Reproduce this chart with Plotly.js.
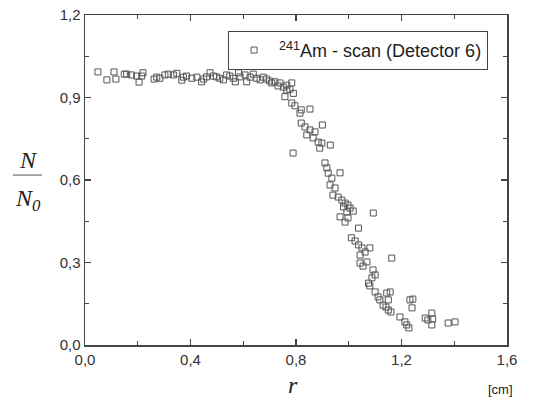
<!DOCTYPE html>
<html>
<head>
<meta charset="utf-8">
<script src="https://cdn.plot.ly/plotly-3.0.1.min.js"></script>
<style>html,body{margin:0;padding:0;background:#fff;}#chart{width:546px;height:398px;}</style>
</head>
<body>
<div id="chart"></div>
<script>
// r [cm]
const rValues = [
  0.049,0.083,0.11,0.117,0.149,0.158,0.176,0.205,0.196,0.22,0.215,0.262,0.272,0.284,0.303,0.316,0.335,0.348,0.367,0.373,
  0.385,0.405,0.424,0.442,0.45,0.461,0.474,0.487,0.498,0.511,0.525,0.537,0.549,0.562,0.57,0.582,0.588,0.607,0.613,0.626,
  0.638,0.651,0.664,0.676,0.689,0.70,0.708,0.72,0.732,0.739,0.752,0.765,0.784,0.777,0.765,0.79,0.758,0.784,0.796,0.82,
  0.853,0.815,0.82,0.834,0.853,0.872,0.841,0.865,0.884,0.898,0.93,0.90,0.89,0.789,
  0.917,0.91,0.922,0.936,0.929,0.948,0.94,0.96,0.974,0.986,0.997,0.98,1.005,1.017,0.993,0.967,0.997,0.986,1.037,1.01,
  1.024,1.037,1.05,1.062,1.08,1.043,1.093,1.163,0.967,
  1.043,1.054,1.069,1.092,1.10,1.088,1.075,1.08,1.10,1.111,1.118,1.13,1.144,1.157,1.15,1.141,1.15,1.16,1.194,1.213,
  1.22,1.228,1.232,1.243,1.24,1.29,1.30,1.315,1.318,1.315,1.377,1.403
];
// N / N0
const nRatio = [
  0.993,0.964,0.993,0.967,0.985,0.985,0.982,0.956,0.978,0.99,0.978,0.967,0.974,0.97,0.982,0.985,0.982,0.988,0.963,0.974,
  0.978,0.97,0.974,0.957,0.967,0.975,0.99,0.978,0.975,0.97,0.964,0.982,0.978,0.97,0.957,0.99,0.975,0.982,0.957,0.974,
  0.985,0.97,0.964,0.974,0.967,0.96,0.953,0.957,0.942,0.953,0.938,0.945,0.953,0.93,0.927,0.915,0.903,0.88,0.87,0.855,
  0.858,0.843,0.807,0.793,0.782,0.775,0.764,0.753,0.738,0.734,0.727,0.80,0.716,0.698,
  0.644,0.662,0.625,0.607,0.582,0.571,0.545,0.538,0.527,0.516,0.509,0.502,0.498,0.487,0.484,0.466,0.462,0.447,0.425,0.39,
  0.378,0.364,0.353,0.338,0.353,0.327,0.48,0.316,0.626,
  0.298,0.287,0.302,0.273,0.255,0.244,0.225,0.215,0.193,0.175,0.164,0.145,0.189,0.193,0.164,0.138,0.127,0.12,0.102,0.084,
  0.073,0.062,0.164,0.167,0.135,0.098,0.091,0.116,0.095,0.073,0.08,0.084
];
const seriesName = '<sup>241</sup>Am - scan (Detector 6)';
const xTicks = [0, 0.4, 0.8, 1.2, 1.6];
const yTicks = [0, 0.3, 0.6, 0.9, 1.2];

const axisCommon = {
  showgrid: false, zeroline: false, showline: true, linecolor: '#444', linewidth: 1.5,
  mirror: 'ticks', ticks: 'inside', ticklen: 6, tickwidth: 1.3, tickcolor: '#444',
  tickfont: {family: 'Liberation Sans, Arial, sans-serif', size: 15, color: '#333'},
  tickformat: '.1f'
};

const trace = {
  x: rValues, y: nRatio, type: 'scatter', mode: 'markers', name: seriesName,
  marker: {symbol: 'square-open', size: 6, color: '#555', line: {width: 1, color: '#555'}},
  showlegend: true
};

const layout = {
  width: 546, height: 398,
  margin: {l: 85, r: 39, t: 15, b: 53},
  paper_bgcolor: '#fff', plot_bgcolor: '#fff',
  separators: ', ',
  showlegend: true,
  xaxis: Object.assign({}, axisCommon, {range: [0, 1.6], tickvals: xTicks,
    minor: {dtick: 0.2, tick0: 0, ticks: 'inside', ticklen: 4, tickcolor: '#444', tickwidth: 1.2}}),
  yaxis: Object.assign({}, axisCommon, {range: [0, 1.2], tickvals: yTicks,
    minor: {dtick: 0.15, tick0: 0, ticks: 'inside', ticklen: 4, tickcolor: '#444', tickwidth: 1.2}}),
  legend: {x: 0.339, y: 0.952, xanchor: 'left', yanchor: 'top', bgcolor: '#fff',
    bordercolor: '#444', borderwidth: 1, itemwidth: 40,
    font: {family: 'Liberation Sans, Arial, sans-serif', size: 18, color: '#222'}},
  annotations: [
    {xref: 'paper', yref: 'paper', x: -0.135, y: 0.56, xanchor: 'center', yanchor: 'middle', showarrow: false,
     text: '<i>N</i>', font: {family: 'Liberation Serif, Times New Roman, serif', size: 24, color: '#222'}},
    {xref: 'paper', yref: 'paper', x: -0.135, y: 0.44, xanchor: 'center', yanchor: 'middle', showarrow: false,
     text: '<i>N<sub>0</sub></i>', font: {family: 'Liberation Serif, Times New Roman, serif', size: 24, color: '#222'}},
    {xref: 'paper', yref: 'paper', x: 0.492, y: -0.12, xanchor: 'center', yanchor: 'middle', showarrow: false,
     text: '<i>r</i>', font: {family: 'Liberation Serif, Times New Roman, serif', size: 24, color: '#222'}},
    {xref: 'paper', yref: 'paper', x: 1.02, y: -0.136, xanchor: 'right', yanchor: 'middle', showarrow: false,
     text: '[cm]', font: {family: 'Liberation Sans, Arial, sans-serif', size: 13, color: '#222'}}
  ],
  shapes: [
    {type: 'line', xref: 'paper', yref: 'paper', x0: -0.171, x1: -0.102, y0: 0.515, y1: 0.515,
     line: {color: '#555', width: 1}}
  ]
};

Plotly.newPlot('chart', [trace], layout, {displayModeBar: false, staticPlot: true});
</script>
</body>
</html>
